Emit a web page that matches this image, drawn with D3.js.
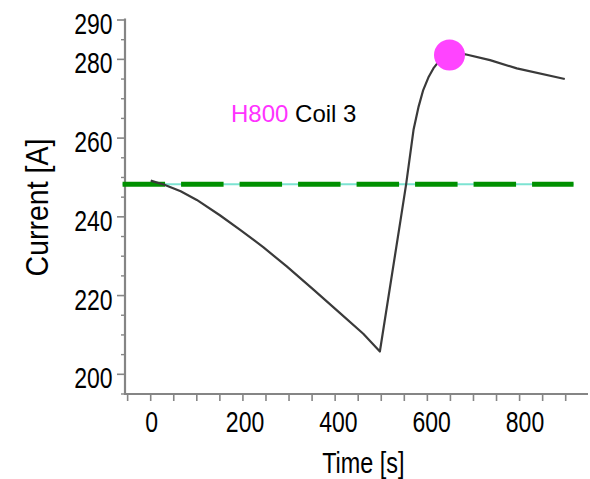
<!DOCTYPE html>
<html>
<head>
<meta charset="utf-8">
<script src="https://cdn.jsdelivr.net/npm/d3@7"></script>
<style>
  html, body { margin: 0; padding: 0; background: #fff; }
  svg { display: block; font-family: "Liberation Sans", Arial, sans-serif; }
</style>
</head>
<body>
<svg id="chart" width="590" height="479"></svg>
<script>
// ---- data ----
const timeS    = [0, 31, 65, 100, 150, 194, 244, 295, 353, 410, 461, 497, 542, 554, 570, 581, 591, 603, 613, 627, 648, 682, 736, 794, 898];
const currentA = [249.2, 248.1, 246.5, 244.3, 240.4, 236.7, 232.3, 227.4, 221.5, 215.6, 210.3, 205.8, 239.3, 248.3, 262.1, 268.0, 272.2, 275.6, 277.7, 279.8, 281.1, 281.3, 279.8, 277.7, 275.0];
const peakTime = [648];
const peakCurrent = [281.1];
const thresholdCurrent = [248.3];
const thresholdSpan = [-61, 917];
const yTickLabels = [200, 220, 240, 260, 280, 290];
const yMinorTicks = [195, 205, 210, 215, 225, 230, 235, 245, 250, 255, 265, 270, 275, 285];
const xTickLabels = [0, 200, 400, 600, 800];
const xTicks = [-50, 0, 50, 100, 150, 200, 250, 300, 350, 400, 450, 500, 550, 600, 650, 700, 750, 800, 850, 900];
const labelDevice = "H800";
const labelCoil = "Coil 3";
const xTitle = "Time [s]";
const yTitle = "Current [A]";

// ---- scales ----
const x = d3.scaleLinear().domain([0, 900]).range([150.7, 565.7]);
const xLab = d3.scaleLinear().domain([0, 800]).range([151.7, 525]);
const y = d3.scaleLinear().domain([200, 290]).range([374.3, 20]);

const svg = d3.select("#chart");
const axisColor = "#858585";

// axes lines
svg.append("line").attr("x1", 125).attr("x2", 125).attr("y1", y(290) - 1.5).attr("y2", y(195))
  .attr("stroke", axisColor).attr("stroke-width", 2.2);
svg.append("line").attr("x1", 124).attr("x2", 588).attr("y1", y(195)).attr("y2", y(195))
  .attr("stroke", axisColor).attr("stroke-width", 2.2);

// y ticks
svg.selectAll(".ymaj").data(yTickLabels).enter().append("line")
  .attr("x1", 117).attr("x2", 125).attr("y1", d => y(d)).attr("y2", d => y(d))
  .attr("stroke", axisColor).attr("stroke-width", 1.6);
svg.selectAll(".ymin").data(yMinorTicks).enter().append("line")
  .attr("x1", 121).attr("x2", 125).attr("y1", d => y(d)).attr("y2", d => y(d))
  .attr("stroke", axisColor).attr("stroke-width", 1.4);
svg.selectAll(".ylab").data(yTickLabels).enter().append("text")
  .attr("transform", d => `translate(112.5,${y(d) + 14}) scale(1,1.27)`)
  .attr("text-anchor", "end").attr("font-size", 23).attr("fill", "#000")
  .text(d => d);

// x ticks
svg.selectAll(".xt").data(xTicks).enter().append("line")
  .attr("x1", d => x(d)).attr("x2", d => x(d)).attr("y1", y(195)).attr("y2", y(195) + 7)
  .attr("stroke", axisColor).attr("stroke-width", 1.6);
svg.selectAll(".xlab").data(xTickLabels).enter().append("text")
  .attr("transform", d => `translate(${xLab(d)},431.7) scale(1,1.3)`)
  .attr("text-anchor", "middle").attr("font-size", 23).attr("fill", "#000")
  .text(d => d);

// axis titles
svg.append("text").attr("transform", "translate(363.3,473.3) scale(1,1.23)")
  .attr("text-anchor", "middle").attr("font-size", 23.4).attr("fill", "#000").text(xTitle);
svg.append("text").attr("transform", "translate(48.3,207.5) rotate(-90) scale(1,1.12)")
  .attr("text-anchor", "middle").attr("font-size", 28.5).attr("fill", "#000").text(yTitle);

// threshold line: thin cyan under a green dashed line
svg.append("line")
  .attr("x1", x(thresholdSpan[0])).attr("x2", x(thresholdSpan[1]))
  .attr("y1", y(thresholdCurrent[0])).attr("y2", y(thresholdCurrent[0]))
  .attr("stroke", "#7de3d2").attr("stroke-width", 2);
svg.append("line")
  .attr("x1", x(thresholdSpan[0])).attr("x2", x(thresholdSpan[1]))
  .attr("y1", y(thresholdCurrent[0])).attr("y2", y(thresholdCurrent[0]))
  .attr("stroke", "#009000").attr("stroke-width", 5).attr("stroke-dasharray", "42.5 16");

// current curve
const line = d3.line().x((d, i) => x(timeS[i])).y(d => y(d)).curve(d3.curveLinear);
svg.append("path").datum(currentA).attr("d", line)
  .attr("fill", "none").attr("stroke", "#3a3a3a").attr("stroke-width", 2.2)
  .attr("stroke-linejoin", "round");

// peak marker
svg.selectAll(".peak").data(peakTime).enter().append("circle")
  .attr("cx", d => x(d)).attr("cy", (d, i) => y(peakCurrent[i])).attr("r", 15.5)
  .attr("fill", "#ff44ff");

// annotation
const ann = svg.append("text").attr("x", 231).attr("y", 122.3).attr("font-size", 24);
ann.append("tspan").attr("fill", "#ff33ff").text(labelDevice);
ann.append("tspan").attr("fill", "#000").text(" " + labelCoil);
</script>
</body>
</html>
